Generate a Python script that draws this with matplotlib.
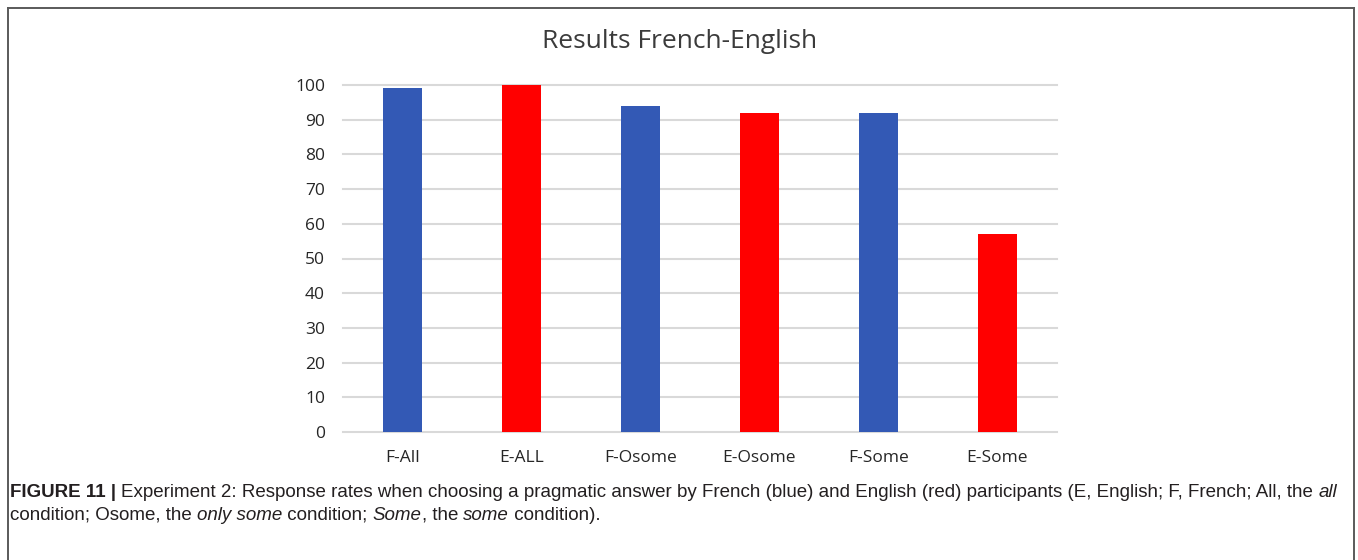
import matplotlib
matplotlib.use("Agg")
import matplotlib.pyplot as plt
from matplotlib.lines import Line2D
import numpy as np

out_png = "out.png"

categories = ["F-All", "E-ALL", "F-Osome", "E-Osome", "F-Some", "E-Some"]
values = [99, 100, 94, 92, 92, 57]
bar_colors = ["#3359B5", "#FF0000", "#3359B5", "#FF0000", "#3359B5", "#FF0000"]
yticks = [0, 10, 20, 30, 40, 50, 60, 70, 80, 90, 100]
title = "Results French-English"

caption_line1 = [
    ("FIGURE 11 | ", "bold", "normal"),
    ("Experiment 2: Response rates when choosing a pragmatic answer by French (blue) and English (red) "
     "participants (E, English; F, French; All, the ", "normal", "normal"),
    ("all", "normal", "italic"),
]
caption_line2 = [
    ("condition; Osome, the ", "normal", "normal"),
    ("only some", "normal", "italic"),
    (" condition; ", "normal", "normal"),
    ("Some", "normal", "italic"),
    (", the ", "normal", "normal"),
    ("some", "normal", "italic"),
    (" condition).", "normal", "normal"),
]

W, H = 1358, 560
fig = plt.figure(figsize=(W / 100, H / 100), dpi=100)
fig.patch.set_facecolor("white")

ax = fig.add_axes([343 / W, 1 - 432 / H, (1057 - 343) / W, (432 - 85) / H])
x = np.arange(len(categories))
ax.bar(x, values, width=0.32, color=bar_colors, zorder=3)
ax.set_xlim(-0.5, len(categories) - 0.5)
ax.set_ylim(0, 100)
ax.set_yticks(yticks)
ax.set_xticks(x)
ax.set_xticklabels(categories)
ax.yaxis.grid(True, color="#D9D9D9", linewidth=1.5, zorder=0)
ax.set_axisbelow(True)
for s in ax.spines.values():
    s.set_visible(False)
ax.tick_params(axis="both", length=0, labelsize=12.5, colors="#262626")
ax.tick_params(axis="y", pad=13)
ax.tick_params(axis="x", pad=13)
for lab in ax.get_xticklabels() + ax.get_yticklabels():
    lab.set_family("Open Sans")
for gl in ax.yaxis.get_gridlines():
    gl.set_clip_on(False)

fig.text(680 / W, 1 - 41 / H, title, ha="center", va="center", fontsize=19,
         family="Open Sans", color="#3B3B3B")

# outer frame
frame_kw = dict(color="#5A5A5A", linewidth=1.4, transform=fig.transFigure)
fig.add_artist(Line2D([8 / W, 8 / W], [0, 1 - 8 / H], **frame_kw))
fig.add_artist(Line2D([8 / W, 1354 / W], [1 - 8 / H, 1 - 8 / H], **frame_kw))
fig.add_artist(Line2D([1354 / W, 1354 / W], [0, 1 - 8 / H], **frame_kw))

# caption with mixed styles
cap_family = ["Liberation Sans Narrow", "Liberation Sans", "DejaVu Sans"]
fig.canvas.draw()
renderer = fig.canvas.get_renderer()


def draw_runs(runs, x0, y0, size):
    xp = x0
    for txt, weight, style in runs:
        t = fig.text(xp / W, 1 - y0 / H, txt, ha="left", va="baseline", fontsize=size,
                     family=cap_family, weight=weight, style=style, color="#231F20")
        bb = t.get_window_extent(renderer=renderer)
        xp += bb.width
    return xp


cap_size = 13.5
draw_runs(caption_line1, 10, 497, cap_size)
draw_runs(caption_line2, 10, 520, cap_size)

fig.savefig(out_png, dpi=100)
plt.close(fig)
print(out_png)
